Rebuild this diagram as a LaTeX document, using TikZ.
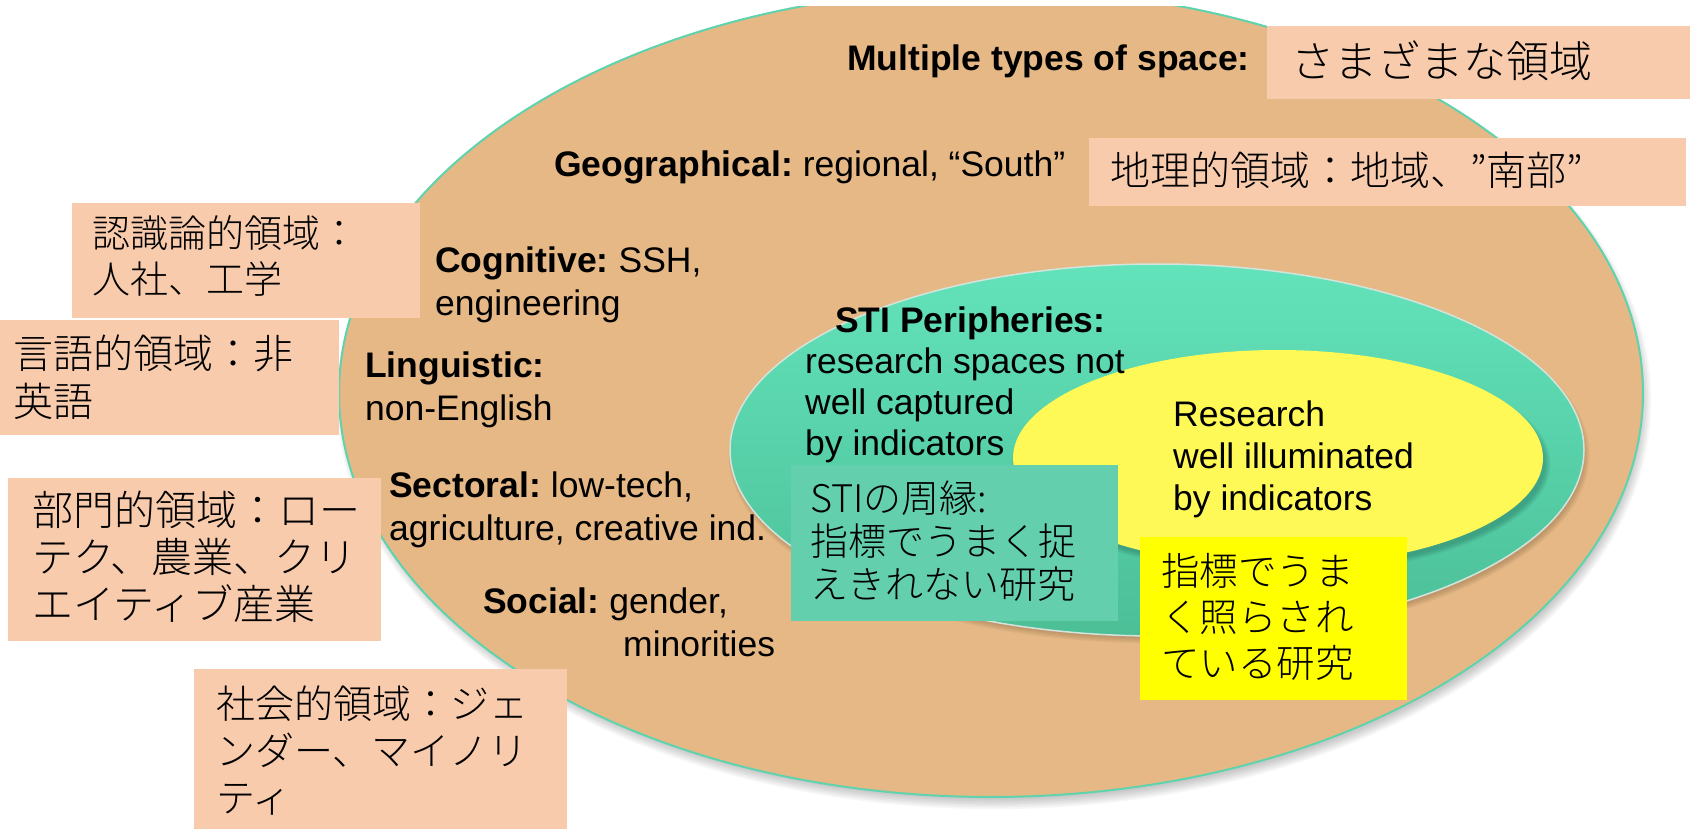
\documentclass[tikz,border=0pt]{standalone}
\usepackage{fontspec}
\setmainfont{Liberation Sans}
\newfontfamily\jp{Noto Sans CJK JP}[UprightFont=* Light]
\usetikzlibrary{shapes.geometric}
\definecolor{tanfill}{HTML}{E5B885}
\definecolor{outeredge}{HTML}{5ED3AD}
\definecolor{peach}{HTML}{F8CBAD}
\definecolor{tealtop}{HTML}{63E3BB}
\definecolor{tealbot}{HTML}{4CBF97}
\definecolor{tealedge}{HTML}{D2E4DC}
\definecolor{yellowell}{HTML}{FFF957}
\definecolor{tealbox}{HTML}{64CFAD}
\definecolor{yellowbox}{HTML}{FFFF00}
\begin{document}
\frenchspacing
\begin{tikzpicture}[x=1pt,y=-1pt,
  en/.style={font=\fontsize{35.5}{43}\selectfont\frenchspacing, inner sep=0pt, anchor=base west, align=left},
  jt/.style={font=\jp\fontsize{40}{47}\selectfont, inner sep=0pt, anchor=base west, align=left},
  pbox/.style={fill=peach, draw=none, inner sep=0pt, outer sep=0pt, anchor=north west},
  ell/.style={ellipse, inner sep=0pt, outer sep=0pt},
]
\useasboundingbox (0,0) rectangle (1690,829);
\fill[white] (0,0) rectangle (1690,829);

\begin{scope}
\clip (0,7) rectangle (1690,829);
% shadow of outer ellipse
\foreach \k in {1,...,7}
  \fill[black, opacity=0.03] (994,400) ellipse [x radius={646pt+\k*1.6pt}, y radius={398pt+\k*1.6pt}];
\node[ell, fill=tanfill, draw=outeredge, line width=2pt, minimum width=1304pt, minimum height=808pt] (outer) at (991,393) {};
\end{scope}

% shadow of teal ellipse
\foreach \k in {1,...,5}
  \fill[black!60!brown, opacity=0.05] (1159,455) ellipse [x radius={424pt+\k*1.3pt}, y radius={182pt+\k*1.3pt}];
\node[ell, top color=tealtop, bottom color=tealbot, draw=tealedge, line width=1.5pt, minimum width=854pt, minimum height=372pt] (teal) at (1157,450) {};

% shadow of yellow ellipse
\foreach \k in {1,...,5}
  \fill[black!70!teal, opacity=0.05] (1281,464) ellipse [x radius={263pt+\k*1.3pt}, y radius={104pt+\k*1.3pt}];
\node[ell, fill=yellowell, minimum width=530pt, minimum height=216pt] (yell) at (1278,458) {};

% English texts (base anchor = baseline of last line)
\node[en, anchor=base east] (tmulti) at (1250,71) {\textbf{Multiple types of space:}};
\node[en] (tgeo) at (554,177) {\textbf{Geographical:} regional, “South”};
\node[en] (tcog) at (435,315) {\textbf{Cognitive:} SSH,\\engineering};
\node[en] (tling) at (365,420) {\textbf{Linguistic:}\\non-English};
\node[en] (tsect) at (389,540) {\textbf{Sectoral:} low-tech,\\agriculture, creative ind.};
\node[en] (tsoc) at (483,656) {\textbf{Social:} gender,\\\hspace*{140pt}minorities};
\node[en, font=\fontsize{35.5}{41}\selectfont\frenchspacing] (tsti) at (805,455) {\hspace*{30pt}\textbf{STI Peripheries:}\\research spaces not\\well captured\\by indicators};
\node[en, font=\fontsize{35.5}{42}\selectfont\frenchspacing] (tres) at (1173,510) {Research\\well illuminated\\by indicators};

% Japanese boxes
\node[pbox, minimum width=424pt, minimum height=73pt] (b1) at (1267,26) {};
\node[jt, font=\jp\fontsize{43}{50}\selectfont] (j1) at (1291,78) {さまざまな領域};

\node[pbox, minimum width=597pt, minimum height=68pt] (b2) at (1089,138) {};
\node[jt, font=\jp\fontsize{40}{48}\selectfont] (j2) at (1110,186) {地理的領域：地域、”南部”};

\node[pbox, minimum width=348pt, minimum height=115pt] (b3) at (72,203) {};
\node[jt, font=\jp\fontsize{38}{47}\selectfont] (j3) at (92,294) {認識論的領域：\\人社、工学};

\node[pbox, minimum width=339pt, minimum height=115pt] (b4) at (0,320) {};
\node[jt, font=\jp\fontsize{40}{48}\selectfont] (j4) at (13,416) {言語的領域：非\\英語};

\node[pbox, minimum width=373pt, minimum height=163pt] (b5) at (8,478) {};
\node[jt, font=\jp\fontsize{41}{47}\selectfont] (j5) at (32,619) {部門的領域：ロー\\テク、農業、クリ\\エイティブ産業};

\node[pbox, minimum width=373pt, minimum height=160pt] (b6) at (194,669) {};
\node[jt, font=\jp\fontsize{39}{47}\selectfont] (j6) at (216,812) {社会的領域：ジェ\\ンダー、マイノリ\\ティ};

\node[pbox, fill=tealbox, minimum width=327pt, minimum height=156pt] (b7) at (791,465) {};
\node[jt, font=\jp\fontsize{38}{43}\selectfont] (j7) at (810,598) {STIの周縁:\\指標でうまく捉\\えきれない研究};

\node[pbox, fill=yellowbox, minimum width=267pt, minimum height=163pt] (b8) at (1140,537) {};
\node[jt, font=\jp\fontsize{38.5}{46}\selectfont] (j8) at (1161,677) {指標でうま\\く照らされ\\ている研究};
\end{tikzpicture}
\end{document}
